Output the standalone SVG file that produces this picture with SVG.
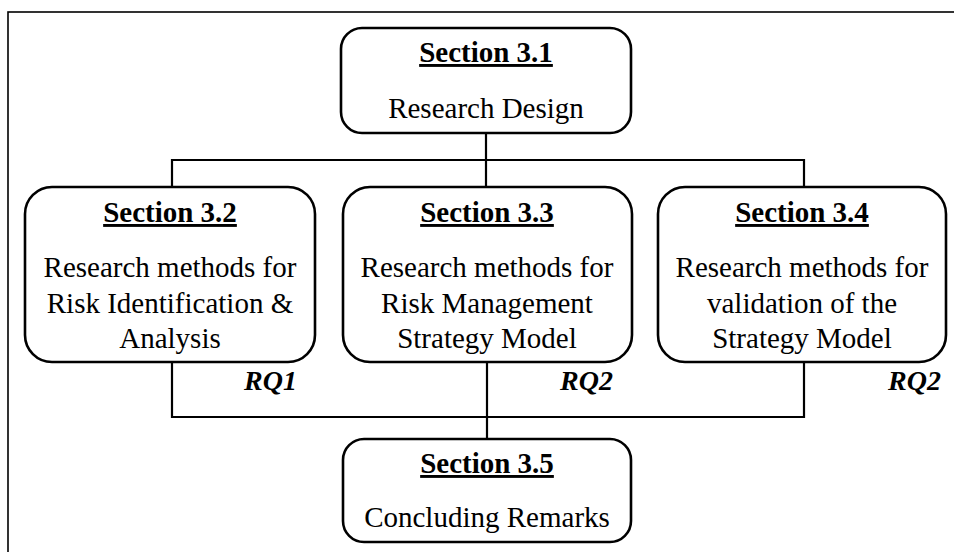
<svg xmlns="http://www.w3.org/2000/svg" width="954" height="552" viewBox="0 0 954 552">
<style>
.box{fill:#fff;stroke:#000;stroke-width:2.6}
.conn{fill:none;stroke:#000;stroke-width:2.2}
.t{font-family:"Liberation Serif","Times New Roman",serif;font-size:29px;fill:#000;text-anchor:middle}
.h{font-weight:bold;text-decoration:underline}
.rq{font-family:"Liberation Serif","Times New Roman",serif;font-size:28px;font-weight:bold;font-style:italic;text-anchor:end;fill:#000}
</style>
<rect x="8" y="12" width="970" height="580" fill="#fff" stroke="#000" stroke-width="1.6"/>
<g id="connectors">
<path class="conn" d="M486 133V160M172 187V160H804V187M486 160V187"/>
<path class="conn" d="M172 362V417H804V362M487 362V439"/>
</g>
<g id="s31">
<rect class="box" x="341" y="28" width="290" height="105" rx="21"/>
<text class="t h" x="486" y="62">Section 3.1</text>
<text class="t" x="486" y="118">Research Design</text>
</g>
<g id="s32">
<rect class="box" x="25" y="187" width="290" height="175" rx="27"/>
<text class="t h" x="170" y="222">Section 3.2</text>
<text class="t" x="170" y="277">Research methods for</text>
<text class="t" x="170" y="313">Risk Identification &amp;</text>
<text class="t" x="170" y="348">Analysis</text>
<text class="rq" x="297" y="390">RQ1</text>
</g>
<g id="s33">
<rect class="box" x="343" y="187" width="289" height="175" rx="27"/>
<text class="t h" x="487" y="222">Section 3.3</text>
<text class="t" x="487" y="277">Research methods for</text>
<text class="t" x="487" y="313">Risk Management</text>
<text class="t" x="487" y="348">Strategy Model</text>
<text class="rq" x="613" y="390">RQ2</text>
</g>
<g id="s34">
<rect class="box" x="658" y="187" width="288" height="175" rx="27"/>
<text class="t h" x="802" y="222">Section 3.4</text>
<text class="t" x="802" y="277">Research methods for</text>
<text class="t" x="802" y="313">validation of the</text>
<text class="t" x="802" y="348">Strategy Model</text>
<text class="rq" x="941" y="390">RQ2</text>
</g>
<g id="s35">
<rect class="box" x="343" y="439" width="288" height="103" rx="21"/>
<text class="t h" x="487" y="473">Section 3.5</text>
<text class="t" x="487" y="527">Concluding Remarks</text>
</g>
</svg>
